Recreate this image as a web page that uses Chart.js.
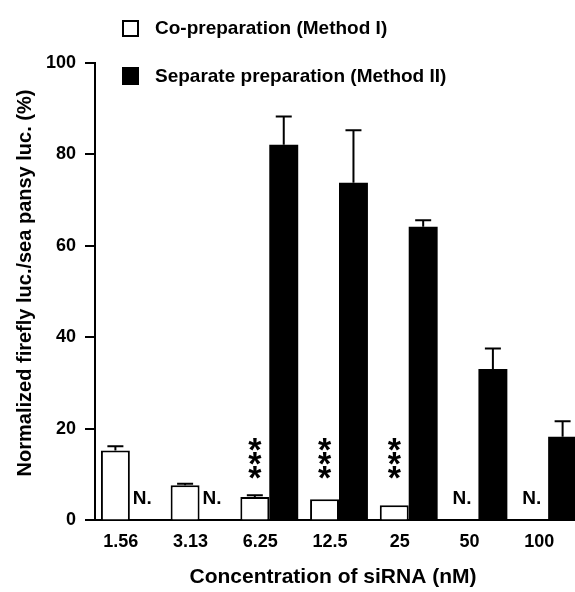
<!DOCTYPE html>
<html>
<head>
<meta charset="utf-8">
<script src="https://cdn.jsdelivr.net/npm/chart.js@4"></script>
<style>
  html, body { margin: 0; padding: 0; background: #fff; overflow: hidden; }
</style>
</head>
<body>
<canvas id="chart" width="590" height="592"></canvas>
<script>
// siRNA concentrations (nM)
const concentrations = ['1.56', '3.13', '6.25', '12.5', '25', '50', '100'];

// Method I: co-preparation
const coPrep = [15.3, 7.7, 5.1, 4.6, 3.3, 0, 0];
const coPrepErr = [0.9, 0.3, 0.4, 0, 0, 0, 0];
const coPrepNotes = ['', '', '***', '***', '***', 'N.', 'N.'];

// Method II: separate preparation
const sepPrep = [0, 0, 82.1, 73.8, 64.2, 33.1, 18.3];
const sepPrepErr = [0, 0, 6.2, 11.5, 1.4, 4.5, 3.4];
const sepPrepNotes = ['N.', 'N.', '', '', '', '', ''];

const xTitle = 'Concentration of siRNA (nM)';
const yTitle = 'Normalized firefly luc./sea pansy luc. (%)';

const FONT = "'Liberation Sans', Arial, sans-serif";

// upper error bars
const errorBars = {
  id: 'errorBars',
  afterDatasetsDraw(chart) {
    const ctx = chart.ctx;
    const y = chart.scales.y;
    ctx.save();
    ctx.strokeStyle = '#000';
    ctx.lineWidth = 2;
    chart.data.datasets.forEach((ds, i) => {
      const meta = chart.getDatasetMeta(i);
      meta.data.forEach((bar, j) => {
        const e = ds.errors[j];
        if (!e) return;
        const y0 = y.getPixelForValue(ds.data[j]);
        const y1 = y.getPixelForValue(ds.data[j] + e);
        ctx.beginPath();
        ctx.moveTo(bar.x, y0);
        ctx.lineTo(bar.x, y1);
        ctx.moveTo(bar.x - 8, y1);
        ctx.lineTo(bar.x + 8, y1);
        ctx.stroke();
      });
    });
    ctx.restore();
  }
};

// "N." and significance stars
const barNotes = {
  id: 'barNotes',
  afterDatasetsDraw(chart) {
    const ctx = chart.ctx;
    const zero = chart.scales.y.getPixelForValue(0);
    ctx.save();
    ctx.fillStyle = '#000';
    chart.data.datasets.forEach((ds, i) => {
      const meta = chart.getDatasetMeta(i);
      meta.data.forEach((bar, j) => {
        const note = ds.notes[j];
        if (note === 'N.') {
          ctx.font = 'bold 19px ' + FONT;
          ctx.textAlign = 'left';
          ctx.textBaseline = 'alphabetic';
          ctx.fillText('N.', bar.x - bar.width / 2 + 3, zero - 16);
        } else if (note === '***') {
          ctx.font = 'bold 34px ' + FONT;
          ctx.textAlign = 'center';
          ctx.textBaseline = 'alphabetic';
          const m = ctx.measureText('*');
          const mid = (m.actualBoundingBoxAscent - m.actualBoundingBoxDescent) / 2;
          for (let k = 0; k < 3; k++) {
            const cy = zero - 48 - k * 14;
            ctx.fillText('*', bar.x, cy + mid);
          }
        }
      });
    });
    ctx.restore();
  }
};

// legend rows and axis titles
const decorations = {
  id: 'decorations',
  afterDraw(chart) {
    const ctx = chart.ctx;
    const rows = [28, 76];
    ctx.save();
    ctx.font = 'bold 19px ' + FONT;
    ctx.textAlign = 'left';
    ctx.textBaseline = 'middle';
    chart.data.datasets.forEach((ds, i) => {
      const cy = rows[i];
      if (ds.backgroundColor === '#fff') {
        ctx.fillStyle = '#fff';
        ctx.fillRect(123, cy - 7, 15, 15);
        ctx.strokeStyle = '#000';
        ctx.lineWidth = 2;
        ctx.strokeRect(123, cy - 7, 15, 15);
      } else {
        ctx.fillStyle = '#000';
        ctx.fillRect(122, cy - 9, 17, 18);
      }
      ctx.fillStyle = '#000';
      ctx.fillText(ds.label, 155, cy + 1);
    });

    ctx.textAlign = 'center';
    ctx.font = 'bold 21px ' + FONT;
    ctx.fillText(xTitle, 333, 577);

    ctx.font = 'bold 20px ' + FONT;
    ctx.translate(25, 283);
    ctx.rotate(-Math.PI / 2);
    ctx.fillText(yTitle, 0, 0);
    ctx.restore();
  }
};

new Chart(document.getElementById('chart'), {
  type: 'bar',
  data: {
    labels: concentrations,
    datasets: [
      {
        label: 'Co-preparation (Method I)',
        data: coPrep,
        errors: coPrepErr,
        notes: coPrepNotes,
        backgroundColor: '#fff',
        borderColor: '#000',
        borderWidth: 2
      },
      {
        label: 'Separate preparation (Method II)',
        data: sepPrep,
        errors: sepPrepErr,
        notes: sepPrepNotes,
        backgroundColor: '#000',
        borderWidth: 0
      }
    ]
  },
  options: {
    responsive: false,
    animation: false,
    categoryPercentage: 0.83,
    barPercentage: 1,
    layout: {
      padding: { top: 63, right: 7, bottom: 28, left: 0 }
    },
    plugins: {
      legend: false,
      tooltip: { enabled: false }
    },
    scales: {
      x: {
        grid: { display: false, drawTicks: false },
        border: { display: true, color: '#000', width: 2 },
        ticks: {
          color: '#000',
          font: { family: FONT, size: 18, weight: 'bold' },
          padding: 11,
          labelOffset: -9,
          maxRotation: 0
        }
      },
      y: {
        min: 0,
        max: 100,
        ticks: {
          stepSize: 20,
          color: '#000',
          font: { family: FONT, size: 18, weight: 'bold' },
          padding: 9
        },
        grid: {
          display: true,
          drawOnChartArea: false,
          drawTicks: true,
          tickLength: 10,
          color: '#000',
          lineWidth: 2
        },
        border: { display: true, color: '#000', width: 2 },
        afterFit(scale) {
          scale.width = 95;
        }
      }
    }
  },
  plugins: [errorBars, barNotes, decorations]
});
</script>
</body>
</html>
